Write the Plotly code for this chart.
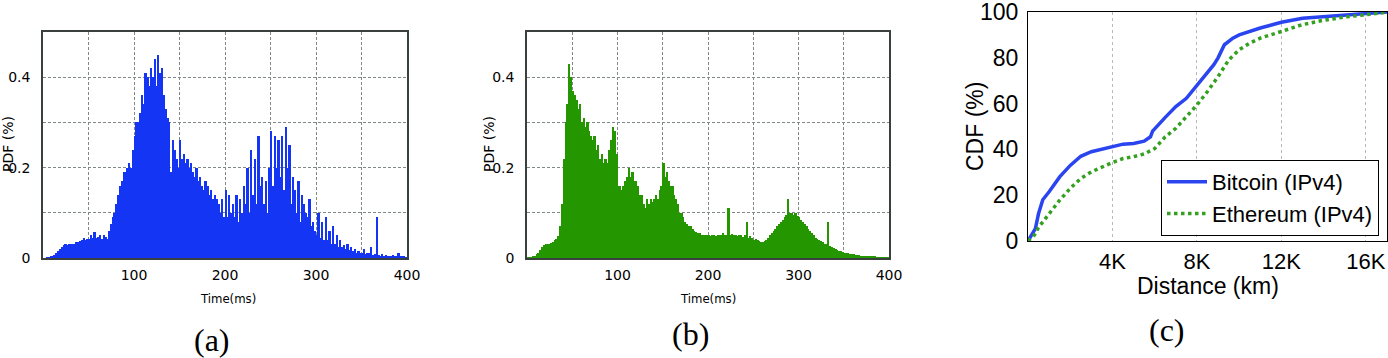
"""
Three-panel latency / distance figure: two PDF histograms and a CDF plot.
"""

import plotly.graph_objects as go

W, H = 1388, 358

BLUE = "#1535f5"
GREEN = "#239600"
FRAME = "#3a4040"
GRID = "#7f8787"

# histogram bin starts (ms), 2 ms bins
BIN_WIDTH = 2
BIN_START = list(range(0, 400, BIN_WIDTH))

# (a) PDF (%) per 2 ms bin, 10 ms per row
PDF_A = [
    0, 0, 0.001, 0.002, 0.004,
    0.005, 0.007, 0.01, 0.015, 0.02,
    0.025, 0.028, 0.03, 0.029, 0.03,
    0.03, 0.032, 0.031, 0.035, 0.036,
    0.038, 0.04, 0.045, 0.039, 0.042,
    0.043, 0.05, 0.044, 0.058, 0.045,
    0.046, 0.052, 0.042, 0.05, 0.046,
    0.042, 0.06, 0.075, 0.09, 0.1,
    0.12, 0.14, 0.16, 0.17, 0.19,
    0.19, 0.2, 0.21, 0.2, 0.24,
    0.27, 0.3, 0.3, 0.32, 0.36,
    0.34, 0.41, 0.4, 0.38, 0.42,
    0.4, 0.44, 0.38, 0.45, 0.41,
    0.42, 0.36, 0.33, 0.31, 0.3,
    0.19, 0.26, 0.24, 0.22, 0.2,
    0.26, 0.22, 0.23, 0.21, 0.22,
    0.2, 0.21, 0.19, 0.18, 0.2,
    0.17, 0.18, 0.16, 0.15, 0.17,
    0.16, 0.14, 0.15, 0.13, 0.14,
    0.13, 0.12, 0.1, 0.13, 0.09,
    0.15, 0.09, 0.14, 0.1, 0.12,
    0.09, 0.14, 0.08, 0.13, 0.1,
    0.16, 0.12, 0.2, 0.1, 0.24,
    0.14, 0.22, 0.12, 0.27, 0.16,
    0.18, 0.12, 0.17, 0.1, 0.2,
    0.28, 0.16, 0.27, 0.2, 0.26,
    0.18, 0.27, 0.15, 0.29, 0.2,
    0.25, 0.12, 0.18, 0.15, 0.1,
    0.17, 0.08, 0.14, 0.12, 0.1,
    0.09, 0.13, 0.07, 0.08, 0.06,
    0.05, 0.1, 0.045, 0.08, 0.04,
    0.09, 0.04, 0.06, 0.03, 0.07,
    0.03, 0.05, 0.025, 0.04, 0.025,
    0.028, 0.02, 0.03, 0.018, 0.025,
    0.015, 0.02, 0.012, 0.015, 0.01,
    0.01, 0.02, 0.008, 0.012, 0.01,
    0.025, 0.007, 0.008, 0.09, 0.006,
    0.005, 0.008, 0.005, 0.006, 0.004,
    0.005, 0.004, 0.006, 0.003, 0.004,
    0.01, 0.004, 0.003, 0.005, 0.002,
]

# (b) PDF (%) per 2 ms bin
PDF_B = [
    0.001, 0.002, 0.002, 0.003, 0.005,
    0.008, 0.012, 0.018, 0.024, 0.028,
    0.03, 0.032, 0.03, 0.033, 0.035,
    0.04, 0.042, 0.048, 0.07, 0.12,
    0.22, 0.3, 0.34, 0.43, 0.4,
    0.37, 0.36, 0.35, 0.33, 0.34,
    0.3, 0.31, 0.29, 0.3, 0.28,
    0.27, 0.26, 0.27, 0.24, 0.25,
    0.22, 0.23, 0.21, 0.22, 0.21,
    0.24, 0.26, 0.29, 0.28, 0.23,
    0.16, 0.16, 0.15, 0.16, 0.17,
    0.18, 0.2, 0.18, 0.19, 0.17,
    0.17, 0.16, 0.14, 0.14, 0.12,
    0.11, 0.13, 0.12, 0.13, 0.125,
    0.13, 0.14, 0.13, 0.15, 0.16,
    0.21, 0.18, 0.19, 0.17, 0.16,
    0.16, 0.14, 0.13, 0.12, 0.1,
    0.1, 0.09, 0.08, 0.075, 0.07,
    0.07, 0.065, 0.06, 0.058, 0.056,
    0.055, 0.052, 0.05, 0.05, 0.052,
    0.05, 0.048, 0.05, 0.052, 0.048,
    0.05, 0.052, 0.05, 0.055, 0.05,
    0.052, 0.11, 0.05, 0.053, 0.05,
    0.05, 0.048, 0.052, 0.05, 0.047,
    0.05, 0.08, 0.045, 0.048, 0.045,
    0.04, 0.042, 0.04, 0.038, 0.035,
    0.035, 0.038, 0.04, 0.045, 0.05,
    0.055, 0.06, 0.065, 0.07, 0.075,
    0.08, 0.085, 0.09, 0.095, 0.13,
    0.1, 0.1, 0.095, 0.1, 0.092,
    0.09, 0.085, 0.08, 0.075, 0.07,
    0.065, 0.06, 0.055, 0.05, 0.045,
    0.042, 0.04, 0.038, 0.035, 0.032,
    0.03, 0.08, 0.027, 0.025, 0.022,
    0.02, 0.018, 0.016, 0.015, 0.013,
    0.012, 0.011, 0.01, 0.009, 0.008,
    0.008, 0.007, 0.006, 0.006, 0.005,
    0.005, 0.004, 0.004, 0.004, 0.003,
    0.003, 0.003, 0.003, 0.002, 0.002,
    0.002, 0.002, 0.001, 0.001, 0.001,
]

# (c) CDF of distance
BTC_KM = [0, 300, 350, 500, 700, 1000, 1500, 2000, 2500, 3000, 3500, 4000,
          4500, 5000, 5500, 5800, 5900, 6500, 7000, 7500, 8000, 8500, 8800,
          9000, 9300, 9700, 10000, 11000, 12000, 13000, 14000, 15000, 16000,
          17000]
BTC_CDF = [0, 4.7, 5.4, 12, 18, 21.5, 28, 33, 37, 39, 40, 41.2,
           42.3, 42.6, 43.6, 45.5, 48, 54, 58.7, 62.3, 68, 73.5, 77,
           80, 85.7, 88.6, 90, 93, 95.5, 97.3, 98, 98.7, 99.4,
           100]

ETH_KM = [0, 300, 500, 1000, 1500, 2000, 2500, 3000, 3500, 4000, 4500,
          5000, 5500, 6000, 6500, 7000, 7500, 8000, 8500, 9000, 9500,
          10000, 10500, 11000, 12000, 13000, 14000, 15000, 16000, 17000]
ETH_CDF = [0, 2.5, 6, 12, 17.8, 23, 27.3, 30.2, 32.4, 34.3, 36,
           36.8, 38, 40.4, 45.5, 49.2, 54.3, 59.4, 65.3, 71.8, 79,
           83.5, 86.4, 88.6, 91.5, 94.5, 96.4, 97.8, 98.8, 99.9]

CDF_TICKS = [4000, 8000, 12000, 16000]
CDF_TICK_TEXT = ["4K", "8K", "12K", "16K"]
CDF_Y_TICKS = [0, 20, 40, 60, 80, 100]


def px(x):
    return x / W


def py(y):
    return 1 - y / H


bin_centers = [b + BIN_WIDTH / 2 for b in BIN_START]

fig = go.Figure()

fig.add_trace(go.Bar(x=bin_centers, y=PDF_A, width=BIN_WIDTH,
                     marker=dict(color=BLUE, line=dict(width=0)),
                     xaxis="x", yaxis="y", showlegend=False))
fig.add_trace(go.Bar(x=bin_centers, y=PDF_B, width=BIN_WIDTH,
                     marker=dict(color=GREEN, line=dict(width=0)),
                     xaxis="x2", yaxis="y2", showlegend=False))

fig.add_trace(go.Scatter(x=BTC_KM, y=BTC_CDF, mode="lines",
                         name="Bitcoin (IPv4)",
                         line=dict(color="#2a45f0", width=3.5),
                         xaxis="x3", yaxis="y3"))
fig.add_trace(go.Scatter(x=ETH_KM, y=ETH_CDF, mode="lines",
                         name="Ethereum (IPv4)",
                         line=dict(color="#34a020", width=3.5, dash="dot"),
                         xaxis="x3", yaxis="y3"))

hist_font = dict(family="DejaVu Sans", size=14, color="black")
grid_dash = "3px,2px"

hist_x = dict(range=[0, 400], tickvals=[100, 200, 300, 400],
              showline=True, linecolor=FRAME, linewidth=1.5, mirror=True,
              showgrid=True, gridcolor=GRID, griddash=grid_dash, gridwidth=1,
              minor=dict(dtick=50, tick0=0, showgrid=True, gridcolor=GRID,
                         griddash=grid_dash, gridwidth=1),
              ticks="", zeroline=False, tickfont=hist_font, ticklabelstandoff=3,
              automargin=False)
hist_y = dict(range=[0, 0.5], tickvals=[0, 0.2, 0.4],
              ticktext=["0", "0.2", "0.4"],
              showline=True, linecolor=FRAME, linewidth=1.5, mirror=True,
              showgrid=True, gridcolor=GRID, griddash=grid_dash, gridwidth=1,
              minor=dict(dtick=0.1, tick0=0, showgrid=True, gridcolor=GRID,
                         griddash=grid_dash, gridwidth=1),
              ticks="", zeroline=False, tickfont=hist_font, ticklabelstandoff=8,
              automargin=False)

cdf_font = dict(family="Liberation Sans, Arial", size=23, color="black")

fig.update_layout(
    width=W, height=H,
    margin=dict(l=0, r=0, t=0, b=0, autoexpand=False),
    paper_bgcolor="white", plot_bgcolor="white",
    bargap=0,
    xaxis=dict(hist_x, domain=[px(43), px(407)], anchor="y"),
    yaxis=dict(hist_y, domain=[py(258), py(32)], anchor="x"),
    xaxis2=dict(hist_x, domain=[px(527), px(889)], anchor="y2"),
    yaxis2=dict(hist_y, domain=[py(258), py(32)], anchor="x2"),
    xaxis3=dict(domain=[px(1028), px(1387)], anchor="y3", range=[0, 17000],
                tickvals=CDF_TICKS, ticktext=CDF_TICK_TEXT,
                showline=True, linecolor="black", linewidth=1.2, mirror=True,
                showgrid=True, gridcolor="#b8b8b8", griddash="dot",
                ticks="", zeroline=False,
                tickfont=dict(cdf_font, size=22), ticklabelstandoff=0,
                automargin=False),
    yaxis3=dict(domain=[py(241), py(12)], anchor="x3", range=[0, 100],
                tickvals=CDF_Y_TICKS, showline=True, linecolor="black",
                linewidth=1.2, mirror=True, showgrid=False, ticks="",
                zeroline=False, tickfont=cdf_font, ticklabelstandoff=4,
                ticklabeloverflow="allow", automargin=False),
    legend=dict(x=px(1379), y=py(236), xanchor="right", yanchor="bottom",
                bgcolor="white", bordercolor="black", borderwidth=1,
                font=dict(family="Liberation Sans, Arial", size=22,
                          color="black"),
                tracegroupgap=0, itemwidth=40),
)

notes = [
    ("PDF (%)", 8, 144, -90, hist_font),
    ("PDF (%)", 489, 144, -90, hist_font),
    ("Time(ms)", 228, 298, 0, dict(family="DejaVu Sans Condensed, DejaVu Sans",
                                   size=13, color="black")),
    ("Time(ms)", 708, 298, 0, dict(family="DejaVu Sans Condensed, DejaVu Sans",
                                   size=13, color="black")),
    ("CDF (%)", 975, 127, -90, cdf_font),
    ("Distance (km)", 1208, 286, 0, cdf_font),
    ("(a)", 212, 340, 0, dict(family="Liberation Serif", size=32, color="black")),
    ("(b)", 690, 334, 0, dict(family="Liberation Serif", size=32, color="black")),
    ("(c)", 1167, 330, 0, dict(family="Liberation Serif", size=32, color="black")),
]
for text, x, y, angle, font in notes:
    fig.add_annotation(text=text, x=px(x), y=py(y), xref="paper", yref="paper",
                       xanchor="center", yanchor="middle", showarrow=False,
                       textangle=angle, font=font)

# drop the browser's default page margin so the 1388x358 figure fills the window
fig.write_html("out.html", config={"displayModeBar": False},
               post_script="document.body.style.margin = '0';")
